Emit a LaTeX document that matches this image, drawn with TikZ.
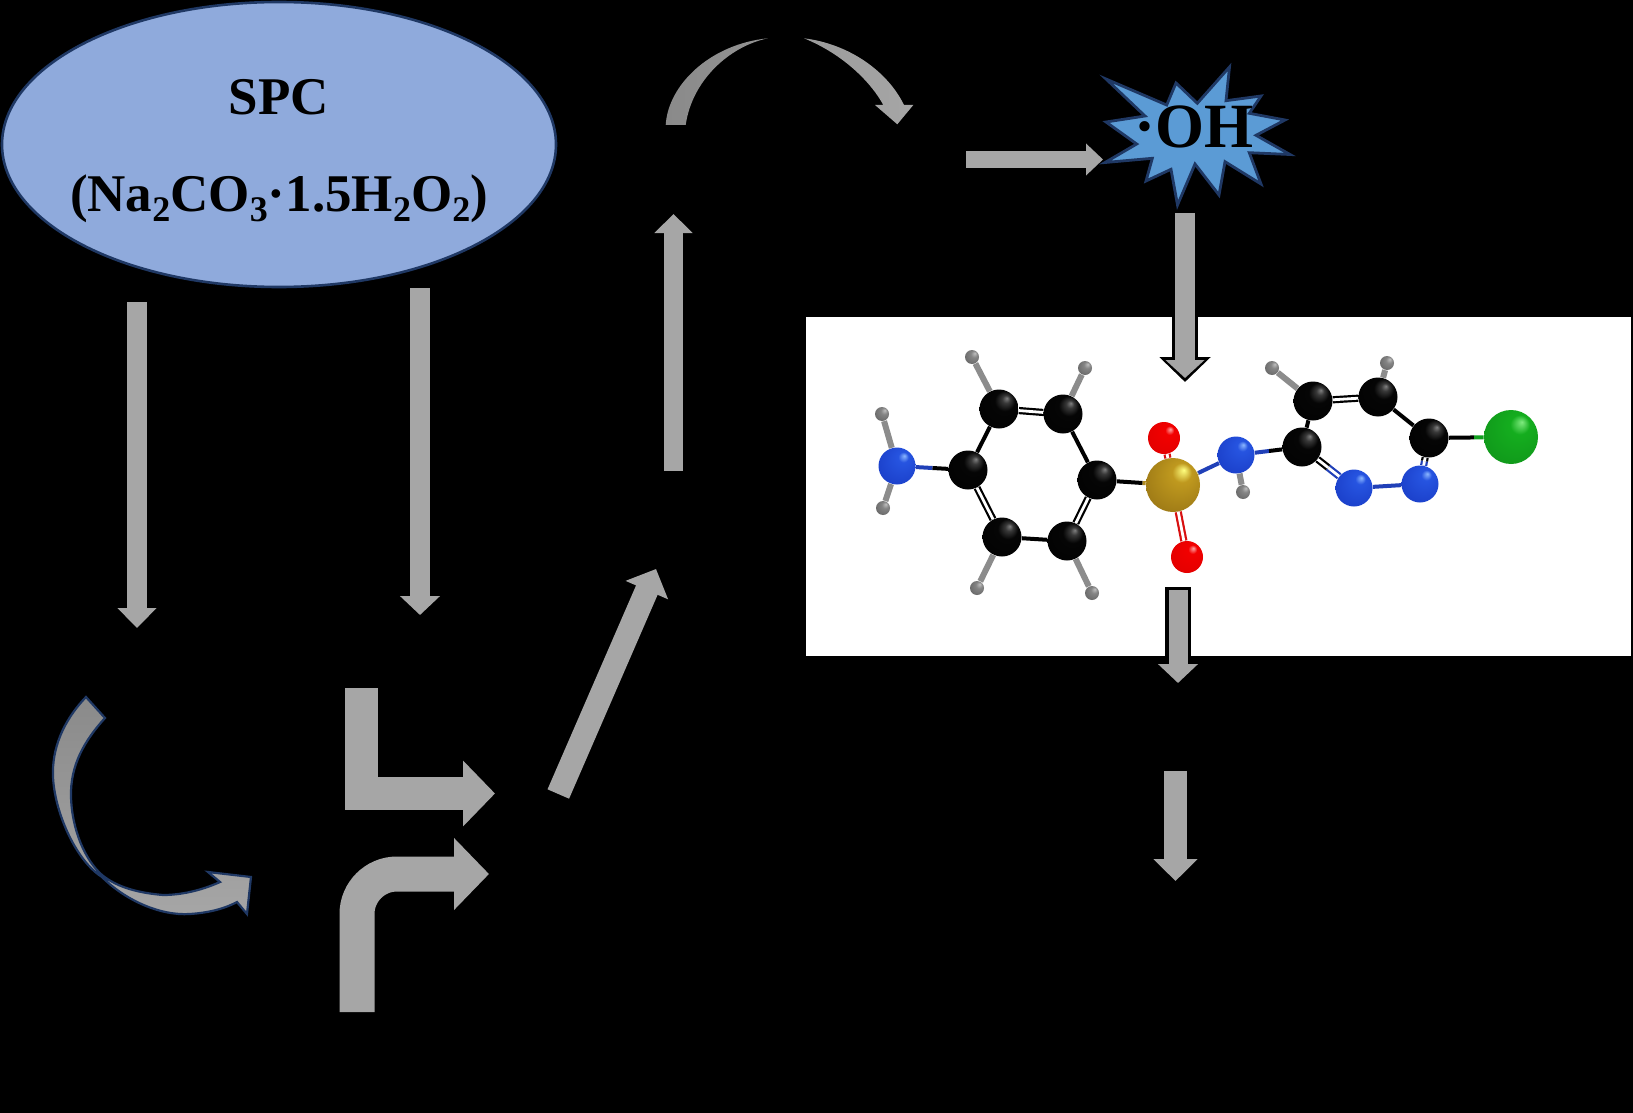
\documentclass[tikz,border=0pt]{standalone}
\usepackage{fontspec}
\setmainfont{Liberation Serif}
\usepackage{xcolor}
\usetikzlibrary{shapes,arrows.meta,positioning,calc}

\definecolor{arrowgray}{HTML}{A6A6A6}
\definecolor{darkgray}{HTML}{8A8A8A}
\definecolor{shapeblue}{HTML}{8FAADC}
\definecolor{starblue}{HTML}{5B9BD5}
\definecolor{edgeblue}{HTML}{1F3864}
\definecolor{bondblue}{HTML}{2040B8}
\definecolor{bondgray}{HTML}{8C8C8C}
\definecolor{bondred}{HTML}{D81010}
\definecolor{bondgold}{HTML}{B08A20}
\definecolor{bondgreen}{HTML}{12A020}

\newcommand{\sbs}[1]{\raisebox{-5.5pt}{\fontsize{18}{20}\selectfont #1}}

\pgfdeclareradialshading{carbonball}{\pgfpoint{10bp}{14bp}}{rgb(0bp)=(0.50,0.50,0.50); rgb(5bp)=(0.22,0.22,0.22); rgb(13bp)=(0.02,0.02,0.02); rgb(50bp)=(0,0,0)}
\pgfdeclareradialshading{nitrogenball}{\pgfpoint{10bp}{14bp}}{rgb(0bp)=(0.55,0.72,1); rgb(7bp)=(0.15,0.33,0.88); rgb(36bp)=(0.10,0.24,0.78); rgb(50bp)=(0.05,0.14,0.50)}
\pgfdeclareradialshading{oxygenball}{\pgfpoint{10bp}{14bp}}{rgb(0bp)=(1,0.65,0.65); rgb(7bp)=(0.95,0,0); rgb(38bp)=(0.88,0,0); rgb(50bp)=(0.50,0,0)}
\pgfdeclareradialshading{sulfurball}{\pgfpoint{10bp}{14bp}}{rgb(0bp)=(1,1,0.50); rgb(9bp)=(0.75,0.60,0.12); rgb(36bp)=(0.60,0.46,0.08); rgb(50bp)=(0.36,0.27,0.04)}
\pgfdeclareradialshading{chlorineball}{\pgfpoint{10bp}{14bp}}{rgb(0bp)=(0.50,0.92,0.50); rgb(9bp)=(0.08,0.68,0.12); rgb(38bp)=(0.06,0.58,0.10); rgb(50bp)=(0.03,0.36,0.06)}
\pgfdeclareradialshading{hydrogenball}{\pgfpoint{10bp}{14bp}}{rgb(0bp)=(0.75,0.75,0.75); rgb(12bp)=(0.52,0.52,0.52); rgb(50bp)=(0.32,0.32,0.32)}

\begin{document}
\begin{tikzpicture}[
    x=0.5pt, y=-0.5pt,
    block/.style n args={3}{line width=#1pt, -{Triangle[width=#2pt, length=#3pt]}},
    spcshape/.style={ellipse, draw=edgeblue, line width=1.3pt, fill=shapeblue, inner sep=0pt, minimum width=277pt, minimum height=142.5pt},
    boldtext/.style={font=\fontsize{26.5}{30}\bfseries, anchor=base, inner sep=0pt},
    atom/.style={circle, inner sep=0pt, shade},
    carbon/.style={atom, shading=carbonball, minimum size=19.5pt},
    nitrogen/.style={atom, shading=nitrogenball, minimum size=18.5pt},
    oxygen/.style={atom, shading=oxygenball, minimum size=16pt},
    sulfur/.style={atom, shading=sulfurball, minimum size=27pt},
    chlorine/.style={atom, shading=chlorineball, minimum size=27pt},
    hydrogen/.style={atom, shading=hydrogenball, minimum size=7pt},
    bond/.style={line width=2pt},
    doublebond/.style={line width=1.1pt, double=white, double distance=1.4pt},
    hbond/.style={line width=3pt, draw=bondgray}
]

% background and panel
\fill[black] (0,0) rectangle (1633,1113);
\fill[white] (806,317) rectangle (1631,656);

% spc ellipse
\node[spcshape] (spc) at (279,144.5) {};
\node[boldtext] (spcname) at (279,115) {SPC};
\node[boldtext] (spcformula) at (279,211) {(Na\sbs{2}CO\sbs{3}·1.5H\sbs{2}O\sbs{2})};

% star
\draw[draw=edgeblue, line width=1.4pt, fill=starblue] (1106,79) -- (1166.7,105) -- (1176,83) -- (1197.3,103.3) -- (1229.5,67) -- (1226,100.7) -- (1261,96) -- (1249.3,113.3) -- (1285,120) -- (1256,135.3) -- (1290,154.5) -- (1249.3,152.7) -- (1261,184) -- (1225,161.7) -- (1219,195) -- (1195,164) -- (1177.5,205) -- (1171,169.3) -- (1146,181) -- (1152.3,158.3) -- (1105,162.5) -- (1136.7,144) -- (1106,122) -- (1145,116) -- cycle;
\node[font=\fontsize{31.5}{36}\bfseries, anchor=base east, inner sep=0pt] (oh) at (1254,148) {·OH};

% arrow ends
\coordinate (a1) at (137,302);
\coordinate (a2) at (137,628);
\coordinate (b1) at (420,288);
\coordinate (b2) at (420,615);
\coordinate (d1) at (673.5,471);
\coordinate (d2) at (673.5,214);
\coordinate (e1) at (966,159.5);
\coordinate (e2) at (1103,159.5);
\coordinate (f1) at (1185,213);
\coordinate (f2) at (1185,378);
\coordinate (f3) at (1185,382);
\coordinate (g1) at (1178,590);
\coordinate (g2) at (1178,683);
\coordinate (g3) at (1178,587);
\coordinate (g4) at (1178,664);
\coordinate (k1) at (1175.5,771);
\coordinate (k2) at (1175.5,881);
\coordinate (m1) at (558.3,794);
\coordinate (m2) at (656,569);
\coordinate (p1) at (361,688);
\coordinate (p2) at (495,793.5);
\coordinate (q1) at (357,1012);
\coordinate (q2) at (489,874);

% straight arrows
\draw[arrowgray, block={10}{19}{10}] (a1) -- (a2);
\draw[arrowgray, block={10}{19.5}{9.5}] (b1) -- (b2);
\draw[arrowgray, block={9.5}{18.5}{9.5}] (d1) -- (d2);
\draw[arrowgray, block={8.5}{15.5}{8.5}] (e1) -- (e2);
\draw[black, block={13}{25}{12.5}] (f1) -- (f3);
\draw[arrowgray, block={9.75}{19}{9}] (f1) -- (f2);
\draw[black, line width=13pt] (g3) -- (g4);
\draw[arrowgray, block={9.5}{19.5}{9.5}] (g1) -- (g2);
\draw[arrowgray, block={11.5}{21.5}{11}] (k1) -- (k2);
\draw[arrowgray, block={11.75}{22.5}{11.5}] (m1) -- (m2);

% bent arrows
\draw[arrowgray, block={16.5}{32}{16}] (p1) |- (p2);
\draw[arrowgray, block={17.5}{35}{17.5}, rounded corners=20pt] (q1) |- (q2);

% curved arrows
\draw[draw=edgeblue, line width=1.1pt, top color=darkgray, bottom color=arrowgray] (86,697) .. controls (62,722) and (52,750) .. (53,776) .. controls (54,810) and (75,860) .. (102,877) .. controls (125,900) and (160,916) .. (190,914) .. controls (205,913) and (222,910) .. (237,902) -- (247,914) -- (251,877) -- (208,872) -- (220,882) .. controls (200,891) and (180,895) .. (163,895) .. controls (140,893) and (118,888) .. (102,875) .. controls (85,860) and (72,830) .. (71,797) .. controls (70,765) and (85,740) .. (105,718) -- cycle;
\fill[left color=darkgray, right color=darkgray!70!arrowgray] (665.7,125) .. controls (668,85) and (710,44) .. (768,38.3) .. controls (730,46) and (692,80) .. (685.7,125) -- cycle;
\fill[left color=darkgray!40!arrowgray, right color=arrowgray] (804,38.3) .. controls (850,44) and (888,72) .. (904,105) -- (913.3,105) -- (897.3,124.3) -- (875,105) -- (883.3,105) .. controls (872,84) and (845,55) .. (804,38.3) -- cycle;

% molecule atoms
\node[carbon] (c1) at (999,409) {};
\node[carbon] (c2) at (1063,414) {};
\node[carbon] (c3) at (1097,480) {};
\node[carbon] (c4) at (968,470) {};
\node[carbon] (c5) at (1002,537) {};
\node[carbon] (c6) at (1067,541) {};
\node[carbon] (c7) at (1302,447) {};
\node[carbon] (c8) at (1313,401) {};
\node[carbon] (c9) at (1378,397) {};
\node[carbon] (c10) at (1429,438) {};
\node[nitrogen] (n1) at (897,466) {};
\node[nitrogen] (n2) at (1236,455) {};
\node[nitrogen] (n3) at (1354,488) {};
\node[nitrogen] (n4) at (1420,484) {};
\node[sulfur] (s1) at (1173,485) {};
\node[oxygen] (o1) at (1164,438) {};
\node[oxygen] (o2) at (1187,557) {};
\node[chlorine] (cl1) at (1511,437) {};
\node[hydrogen] (h1) at (972,357) {};
\node[hydrogen] (h2) at (1085,368) {};
\node[hydrogen] (h3) at (882,414) {};
\node[hydrogen] (h4) at (883,508) {};
\node[hydrogen] (h5) at (977,588) {};
\node[hydrogen] (h6) at (1092,593) {};
\node[hydrogen] (h7) at (1243,492) {};
\node[hydrogen] (h8) at (1272,368) {};
\node[hydrogen] (h9) at (1387,363) {};

% molecule bonds
\draw[doublebond] (c1) -- (c2);
\draw[bond] (c2) -- (c3);
\draw[doublebond] (c3) -- (c6);
\draw[bond] (c6) -- (c5);
\draw[doublebond] (c5) -- (c4);
\draw[bond] (c4) -- (c1);
\draw[bond] (c7) -- (c8);
\draw[doublebond] (c8) -- (c9);
\draw[bond] (c9) -- (c10);
\draw[hbond] (c1) -- (h1);
\draw[hbond] (c2) -- (h2);
\draw[hbond] (c5) -- (h5);
\draw[hbond] (c6) -- (h6);
\draw[hbond] (c8) -- (h8);
\draw[hbond] (c9) -- (h9);
\draw[hbond] (n1) -- (h3);
\draw[hbond] (n1) -- (h4);
\draw[hbond] (n2) -- (h7);
\draw[bond, bondblue] (n1) -- ($(n1)!.5!(c4)$);
\draw[bond] ($(n1)!.5!(c4)$) -- (c4);
\draw[bond] (c3) -- ($(c3)!.6!(s1)$);
\draw[bond, bondgold] ($(c3)!.6!(s1)$) -- (s1);
\draw[doublebond, bondred] (s1) -- (o1);
\draw[doublebond, bondred] (s1) -- (o2);
\draw[bond, bondblue] (n2) -- ($(n2)!.6!(s1)$);
\draw[bond, bondgray] ($(n2)!.6!(s1)$) -- (s1);
\draw[bond, bondblue] (n2) -- ($(n2)!.5!(c7)$);
\draw[bond] ($(n2)!.5!(c7)$) -- (c7);
\draw[doublebond, bondblue] (n3) -- ($(n3)!.5!(c7)$);
\draw[doublebond] ($(n3)!.5!(c7)$) -- (c7);
\draw[bond, bondblue] (n3) -- (n4);
\draw[doublebond, bondblue] (n4) -- ($(n4)!.5!(c10)$);
\draw[doublebond] ($(n4)!.5!(c10)$) -- (c10);
\draw[bond] (c10) -- ($(c10)!.55!(cl1)$);
\draw[bond, bondgreen] ($(c10)!.55!(cl1)$) -- (cl1);

\end{tikzpicture}
\end{document}
